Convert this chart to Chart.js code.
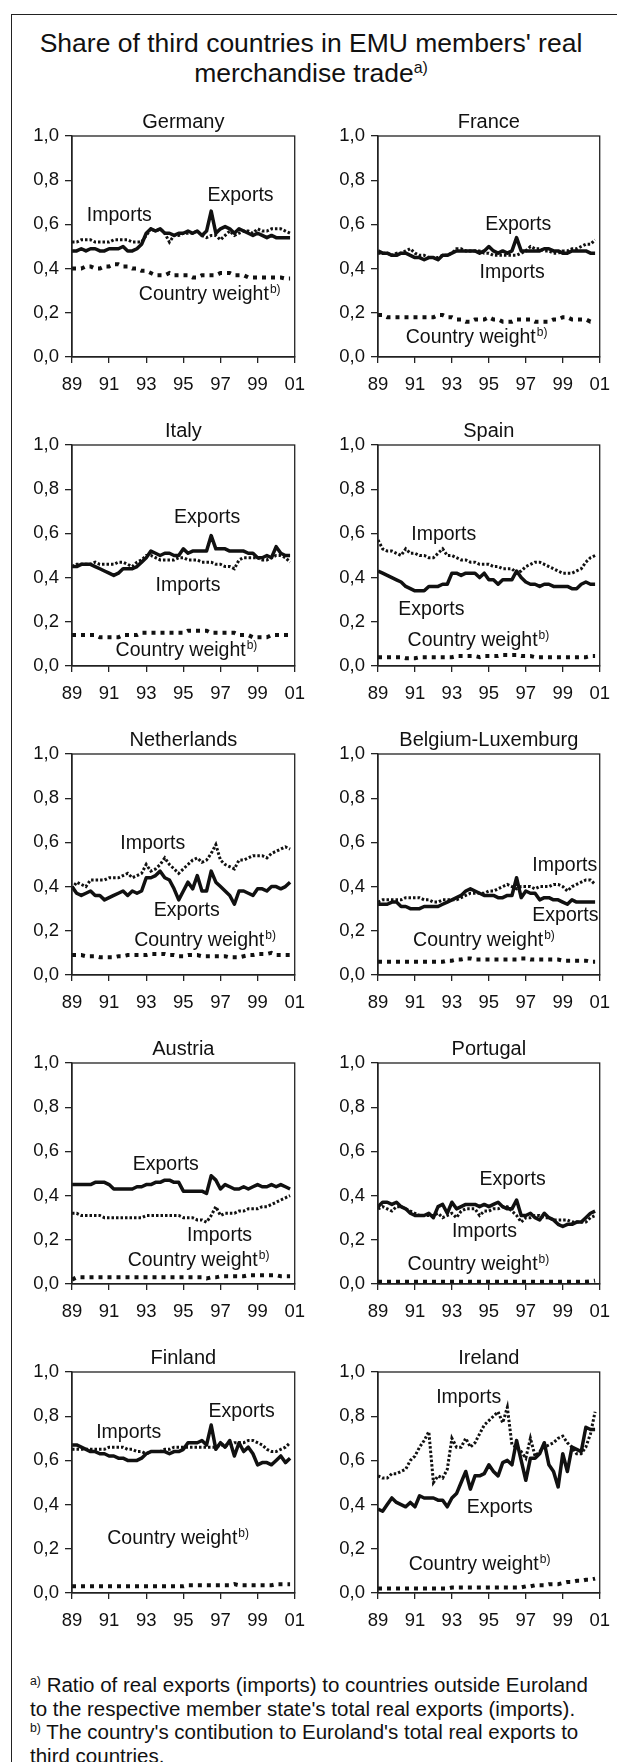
<!DOCTYPE html>
<html>
<head>
<meta charset="utf-8">
<title>Share of third countries in EMU members' real merchandise trade</title>
<script src="https://cdn.jsdelivr.net/npm/chart.js@4.4.1/dist/chart.umd.min.js"></script>
<style>
  html, body { margin: 0; padding: 0; background: #fff; overflow: hidden; }
  body { width: 617px; height: 1762px; position: relative; font-family: "Liberation Sans", Arial, sans-serif; color: #111; }
  #frame { position: absolute; left: 11px; top: 14px; width: 640px; height: 1800px; border: 1.5px solid #222; box-sizing: border-box; }
  #title { position: absolute; left: 3px; width: 616px; top: 28px; text-align: center; font-size: 26.5px; line-height: 30px; }
  .panel { position: absolute; }
  #notes { position: absolute; left: 30px; top: 1673px; font-size: 20.5px; line-height: 23.5px; white-space: nowrap; }
  sup { font-size: 0.6em; vertical-align: 0.55em; line-height: 0; }
</style>
</head>
<body>
<div id="frame"></div>
<div id="title">Share of third countries in EMU members' real<br>merchandise trade<sup>a)</sup></div>
<div id="panels"></div>
<div id="notes">
<sup>a)</sup> Ratio of real exports (imports) to countries outside Euroland<br>
to the respective member state's total real exports (imports).<br>
<sup>b)</sup> The country's contibution to Euroland's total real exports to<br>
third countries.
</div>

<script>
"use strict";

// Quarterly observations 1989Q1 - 2000Q4
const quarters = [];
for (let yr = 89; yr <= 100; yr++) {
  for (let q = 0; q < 4; q++) quarters.push(yr + q / 4);
}

// Axis ticks
const xTickYears = [89, 91, 93, 95, 97, 99, 101];
const yTickValues = [0, 0.2, 0.4, 0.6, 0.8, 1.0];

const countries = ["Germany", "France", "Italy", "Spain", "Netherlands",
  "Belgium-Luxemburg", "Austria", "Portugal", "Finland", "Ireland"];

// Germany
const germanyExports = [.48,.48,.49,.48, .49,.49,.48,.48, .49,.49,.49,.50, .48,.48,.49,.51,
  .56,.58,.57,.58, .56,.56,.55,.56, .56,.57,.56,.57, .55,.57,.66,.56,
  .58,.59,.58,.56, .58,.57,.56,.55, .56,.55,.54,.55, .54,.54,.54,.54];
const germanyImports = [.52,.52,.53,.53, .53,.52,.52,.52, .52,.53,.53,.53, .53,.52,.52,.52,
  .55,.58,.57,.58, .56,.52,.55,.55, .56,.56,.56,.57, .55,.54,.55,.55,
  .53,.55,.57,.55, .56,.57,.57,.56, .58,.57,.57,.58, .58,.58,.57,.56];
const germanyWeight = [.40,.40,.40,.41, .41,.40,.40,.41, .41,.42,.42,.41, .41,.40,.40,.39,
  .39,.38,.37,.37, .37,.38,.37,.37, .37,.37,.36,.36, .37,.37,.37,.37,
  .38,.38,.38,.37, .37,.37,.36,.36, .36,.36,.36,.36, .36,.36,.355,.355];

// France
const franceExports = [.48,.47,.47,.46, .46,.47,.47,.46, .45,.45,.44,.45, .45,.44,.46,.46,
  .47,.48,.48,.48, .48,.48,.47,.48, .50,.48,.47,.48, .47,.48,.54,.48,
  .48,.48,.48,.48, .49,.49,.48,.48, .47,.47,.48,.48, .48,.48,.47,.47];
const franceImports = [.47,.47,.47,.46, .47,.47,.48,.49, .47,.46,.46,.45, .45,.45,.46,.46,
  .47,.49,.49,.48, .48,.48,.48,.47, .47,.46,.46,.46, .46,.46,.46,.47,
  .48,.50,.49,.49, .48,.48,.47,.47, .48,.48,.49,.49, .50,.51,.51,.53];
const franceWeight = [.19,.19,.18,.18, .18,.18,.18,.18, .18,.18,.18,.18, .18,.19,.19,.18,
  .18,.17,.17,.16, .16,.17,.17,.17, .18,.17,.17,.16, .16,.16,.17,.17,
  .17,.17,.16,.16, .16,.16,.17,.17, .18,.18,.17,.17, .17,.17,.16,.16];

// Italy
const italyExports = [.45,.45,.46,.46, .46,.45,.44,.43, .42,.41,.42,.44, .44,.44,.45,.47,
  .49,.52,.51,.50, .51,.51,.50,.50, .53,.51,.52,.52, .52,.52,.59,.53,
  .53,.53,.52,.52, .52,.52,.51,.51, .49,.49,.50,.49, .54,.51,.50,.50];
const italyImports = [.45,.46,.46,.46, .46,.47,.46,.46, .46,.46,.47,.47, .46,.45,.47,.48,
  .50,.50,.49,.48, .48,.48,.48,.49, .49,.48,.48,.48, .47,.47,.47,.46,
  .46,.45,.45,.44, .48,.49,.49,.49, .49,.48,.48,.49, .50,.50,.49,.47];
const italyWeight = [.14,.14,.14,.14, .14,.14,.13,.13, .13,.13,.13,.14, .14,.14,.14,.15,
  .15,.15,.15,.15, .15,.15,.15,.15, .15,.16,.16,.16, .16,.16,.15,.15,
  .15,.15,.15,.15, .14,.14,.14,.13, .13,.13,.13,.14, .14,.14,.14,.14];

// Spain
const spainExports = [.43,.42,.41,.40, .39,.38,.36,.35, .34,.34,.34,.36, .36,.36,.37,.37,
  .42,.42,.41,.42, .42,.42,.40,.42, .39,.39,.37,.39, .39,.39,.43,.40,
  .38,.37,.37,.36, .37,.37,.36,.36, .36,.36,.35,.35, .37,.38,.37,.37];
const spainImports = [.57,.53,.52,.52, .51,.50,.53,.51, .51,.50,.50,.49, .49,.51,.53,.50,
  .50,.49,.48,.48, .47,.47,.46,.46, .46,.45,.45,.44, .44,.44,.42,.43,
  .45,.46,.47,.47, .46,.45,.44,.43, .42,.42,.42,.43, .44,.47,.49,.50];
const spainWeight = [.04,.04,.04,.04, .04,.04,.035,.035, .035,.04,.04,.04, .04,.04,.04,.04,
  .04,.045,.045,.045, .045,.045,.04,.045, .045,.045,.045,.05, .05,.05,.05,.045,
  .045,.045,.04,.04, .04,.04,.04,.04, .04,.04,.04,.04, .04,.04,.045,.045];

// Netherlands
const netherlandsExports = [.40,.37,.36,.37, .38,.36,.36,.34, .35,.36,.37,.38, .36,.38,.37,.38,
  .44,.44,.45,.47, .44,.43,.39,.34, .38,.42,.39,.45, .38,.38,.47,.42,
  .40,.38,.36,.32, .38,.38,.37,.36, .39,.39,.38,.40, .40,.39,.40,.42];
const netherlandsImports = [.39,.42,.41,.40, .43,.43,.43,.43, .44,.44,.44,.45, .46,.44,.45,.46,
  .50,.47,.48,.50, .53,.50,.48,.46, .48,.50,.52,.53, .51,.52,.55,.59,
  .52,.50,.49,.48, .52,.52,.53,.54, .54,.54,.53,.55, .56,.57,.58,.57];
const netherlandsWeight = [.09,.09,.09,.085, .085,.085,.08,.08, .08,.08,.085,.085, .09,.09,.09,.09,
  .09,.095,.095,.095, .095,.09,.09,.085, .085,.09,.09,.09, .085,.085,.085,.085,
  .085,.085,.08,.08, .08,.085,.09,.09, .095,.095,.095,.10, .09,.09,.09,.09];

// Belgium-Luxemburg
const belgiumExports = [.32,.32,.32,.33, .33,.31,.31,.30, .30,.30,.31,.31, .31,.31,.32,.33,
  .34,.35,.36,.38, .39,.38,.37,.36, .36,.36,.35,.35, .36,.36,.44,.35,
  .38,.37,.37,.34, .35,.35,.34,.34, .33,.32,.34,.33, .33,.33,.33,.33];
const belgiumImports = [.33,.34,.34,.34, .34,.34,.35,.35, .35,.35,.34,.34, .33,.33,.34,.34,
  .34,.34,.35,.36, .37,.37,.37,.37, .38,.38,.39,.40, .41,.40,.39,.40,
  .40,.40,.39,.40, .40,.40,.41,.41, .40,.38,.40,.41, .42,.43,.43,.41];
const belgiumWeight = [.06,.06,.06,.06, .06,.06,.06,.06, .06,.06,.06,.06, .06,.06,.06,.065,
  .065,.07,.07,.075, .075,.07,.07,.07, .07,.07,.07,.07, .07,.07,.07,.075,
  .075,.07,.07,.07, .07,.07,.07,.07, .065,.065,.065,.065, .065,.065,.06,.06];

// Austria
const austriaExports = [.45,.45,.45,.45, .45,.46,.46,.46, .45,.43,.43,.43, .43,.43,.44,.44,
  .45,.45,.46,.46, .47,.47,.46,.46, .42,.42,.42,.42, .42,.41,.49,.47,
  .43,.45,.44,.43, .43,.44,.43,.44, .45,.44,.44,.45, .44,.45,.44,.43];
const austriaImports = [.32,.32,.31,.31, .31,.31,.31,.30, .30,.30,.30,.30, .30,.30,.30,.30,
  .31,.31,.31,.31, .31,.31,.31,.31, .30,.30,.30,.29, .29,.28,.31,.35,
  .31,.32,.32,.32, .33,.33,.34,.34, .34,.35,.35,.36, .37,.38,.39,.40];
const austriaWeight = [.02,.03,.03,.03, .03,.03,.03,.03, .03,.03,.03,.03, .03,.03,.03,.03,
  .03,.03,.03,.03, .03,.03,.03,.03, .03,.03,.03,.03, .03,.025,.03,.03,
  .035,.035,.035,.035, .035,.035,.04,.04, .04,.04,.04,.04, .04,.035,.035,.035];

// Portugal
const portugalExports = [.35,.37,.37,.36, .37,.35,.34,.32, .31,.31,.31,.32, .30,.35,.36,.32,
  .37,.34,.35,.36, .36,.36,.35,.36, .35,.36,.37,.35, .34,.34,.38,.31,
  .31,.32,.30,.29, .32,.30,.29,.27, .26,.27,.27,.28, .28,.30,.32,.33];
const portugalImports = [.34,.35,.34,.33, .35,.35,.34,.33, .32,.31,.31,.31, .31,.32,.30,.31,
  .32,.30,.33,.34, .34,.34,.31,.33, .33,.34,.34,.35, .35,.33,.31,.28,
  .30,.30,.31,.31, .30,.30,.29,.29, .29,.29,.28,.28, .28,.28,.30,.31];
const portugalWeight = [.01,.01,.01,.01, .01,.01,.01,.01, .01,.01,.01,.01, .01,.01,.01,.01,
  .01,.01,.01,.01, .01,.01,.01,.01, .01,.01,.01,.01, .01,.01,.01,.01,
  .01,.01,.01,.01, .01,.01,.01,.01, .01,.01,.01,.01, .01,.01,.012,.015];

// Finland
const finlandExports = [.67,.67,.66,.65, .64,.64,.63,.63, .62,.62,.61,.61, .60,.60,.60,.61,
  .63,.64,.64,.64, .64,.63,.64,.64, .65,.68,.68,.68, .69,.67,.76,.65,
  .68,.66,.69,.62, .68,.64,.66,.63, .58,.59,.59,.58, .60,.62,.59,.61];
const finlandImports = [.65,.65,.65,.65, .65,.65,.65,.65, .66,.66,.66,.66, .65,.65,.64,.64,
  .63,.64,.64,.64, .65,.65,.66,.66, .66,.66,.66,.66, .66,.66,.66,.66,
  .67,.67,.67,.68, .68,.68,.69,.69, .68,.67,.65,.64, .64,.65,.66,.68];
const finlandWeight = [.03,.03,.03,.03, .03,.03,.03,.03, .03,.03,.03,.03, .03,.03,.03,.03,
  .03,.03,.03,.03, .03,.03,.03,.03, .03,.035,.035,.035, .035,.035,.035,.035,
  .035,.035,.035,.04, .035,.035,.035,.035, .035,.035,.035,.035, .04,.04,.04,.04];

// Ireland
const irelandExports = [.38,.37,.40,.43, .41,.40,.39,.41, .39,.44,.43,.43, .43,.42,.42,.39,
  .43,.45,.50,.55, .47,.53,.53,.54, .58,.55,.53,.59, .60,.58,.69,.60,
  .51,.61,.61,.63, .68,.58,.55,.48, .63,.55,.66,.65, .64,.75,.74,.74];
const irelandImports = [.53,.52,.52,.54, .54,.55,.56,.60, .62,.66,.69,.73, .50,.53,.52,.56,
  .70,.66,.66,.70, .66,.68,.72,.76, .78,.80,.82,.77, .84,.67,.66,.64,
  .61,.70,.62,.64, .66,.67,.68,.70, .71,.68,.66,.63, .63,.66,.72,.82];
const irelandWeight = [.02,.02,.02,.02, .02,.02,.02,.02, .02,.02,.02,.02, .02,.02,.02,.02,
  .025,.025,.025,.025, .025,.025,.025,.025, .025,.025,.025,.025, .025,.025,.025,.025,
  .03,.03,.035,.035, .035,.04,.04,.04, .045,.05,.05,.055, .055,.06,.06,.065];

const exportsSeries = [germanyExports, franceExports, italyExports, spainExports, netherlandsExports,
  belgiumExports, austriaExports, portugalExports, finlandExports, irelandExports];
const importsSeries = [germanyImports, franceImports, italyImports, spainImports, netherlandsImports,
  belgiumImports, austriaImports, portugalImports, finlandImports, irelandImports];
const weightSeries = [germanyWeight, franceWeight, italyWeight, spainWeight, netherlandsWeight,
  belgiumWeight, austriaWeight, portugalWeight, finlandWeight, irelandWeight];

// In-plot labels: [exports x, y], [imports x, y], [weight x, y] (left edge, data units)
const labelSpots = [
  [[96.3, .73], [89.8, .64], [92.6, .28]],
  [[94.8, .60], [94.5, .38], [90.5, .087]],
  [[94.5, .67], [93.5, .364], [91.35, .068]],
  [[90.1, .256], [90.8, .594], [90.6, .113]],
  [[93.4, .29], [91.6, .595], [92.35, .155]],
  [[97.35, .27], [97.35, .493], [90.9, .155]],
  [[92.27, .542], [95.2, .22], [92.0, .107]],
  [[94.5, .474], [93.0, .237], [90.6, .087]],
  [[96.36, .82], [90.3, .725], [90.9, .247]],
  [[93.8, .387], [92.15, .886], [90.66, .129]]
];

// Panel layout
const colLeft = [10, 316];
const colWidth = [306, 305];
const rowTop0 = 110;
const rowStep = 309;
const panelHeight = 287;

const FONT = "'Liberation Sans', Arial, sans-serif";
Chart.defaults.font.family = FONT;
Chart.defaults.color = "#111";

// Box around the plot area plus the text labels inside it
const plotDecor = {
  id: "plotDecor",
  afterDatasetsDraw(chart, args, opts) {
    const { ctx, chartArea: a, scales } = chart;
    ctx.save();
    ctx.strokeStyle = "#222";
    ctx.lineWidth = 1.3;
    ctx.strokeRect(a.left, a.top, a.right - a.left, a.bottom - a.top);

    ctx.fillStyle = "#111";
    ctx.textBaseline = "middle";
    ctx.textAlign = "left";
    opts.labels.forEach((lab) => {
      const px = scales.x.getPixelForValue(lab.x);
      const py = scales.y.getPixelForValue(lab.y);
      ctx.font = "19.5px " + FONT;
      ctx.fillText(lab.text, px, py);
      if (lab.sup) {
        const w = ctx.measureText(lab.text).width;
        ctx.font = "12px " + FONT;
        ctx.fillText(lab.sup, px + w + 1, py - 5);
      }
    });
    ctx.restore();
  }
};

function makePanel(idx) {
  const col = idx % 2;
  const row = Math.floor(idx / 2);

  const wrap = document.createElement("div");
  wrap.className = "panel";
  wrap.style.left = colLeft[col] + "px";
  wrap.style.top = (rowTop0 + row * rowStep) + "px";
  const canvas = document.createElement("canvas");
  canvas.width = colWidth[col];
  canvas.height = panelHeight;
  wrap.appendChild(canvas);
  document.getElementById("panels").appendChild(wrap);

  const spots = labelSpots[idx];
  const labels = [
    { text: "Exports", x: spots[0][0], y: spots[0][1] },
    { text: "Imports", x: spots[1][0], y: spots[1][1] },
    { text: "Country weight", sup: "b)", x: spots[2][0], y: spots[2][1] }
  ];

  new Chart(canvas, {
    type: "line",
    data: {
      labels: quarters,
      datasets: [
        {
          label: "Exports",
          data: exportsSeries[idx],
          borderColor: "#111",
          borderWidth: 3.5,
          borderJoinStyle: "round",
          pointRadius: 0,
          tension: 0
        },
        {
          label: "Imports",
          data: importsSeries[idx],
          borderColor: "#111",
          borderWidth: 3,
          borderDash: [2.5, 2],
          pointRadius: 0,
          tension: 0
        },
        {
          label: "Country weight",
          data: weightSeries[idx],
          borderColor: "#111",
          borderWidth: 4,
          borderDash: [4, 5],
          pointRadius: 0,
          tension: 0
        }
      ]
    },
    options: {
      responsive: false,
      animation: false,
      layout: { padding: { left: 0, right: 14, top: 0, bottom: 0 } },
      plugins: {
        legend: { display: false },
        tooltip: { enabled: false },
        title: {
          display: true,
          text: countries[idx],
          fullSize: false,
          color: "#111",
          font: { size: 20, weight: "normal" },
          padding: { top: 0, bottom: 2 }
        },
        plotDecor: { labels }
      },
      scales: {
        x: {
          type: "linear",
          min: 89,
          max: 101,
          afterBuildTicks: (s) => { s.ticks = xTickYears.map((v) => ({ value: v })); },
          afterFit: (s) => { s.height = 40; },
          ticks: {
            color: "#111",
            font: { size: 18.5 },
            padding: 11,
            maxRotation: 0,
            autoSkip: false,
            callback: (v) => String(v % 100).padStart(2, "0")
          },
          grid: { drawOnChartArea: false, tickLength: 6, color: "#222", lineWidth: 1.3 },
          border: { display: true, color: "#222", width: 1.3 }
        },
        y: {
          min: 0,
          max: 1,
          afterBuildTicks: (s) => { s.ticks = yTickValues.map((v) => ({ value: v })); },
          afterFit: (s) => { s.width = 62; },
          ticks: {
            color: "#111",
            font: { size: 18.5 },
            padding: 6,
            autoSkip: false,
            callback: (v) => v.toFixed(1).replace(".", ",")
          },
          grid: { drawOnChartArea: false, tickLength: 7, color: "#222", lineWidth: 1.3 },
          border: { display: true, color: "#222", width: 1.3 }
        }
      }
    },
    plugins: [plotDecor]
  });
}

countries.forEach((_, i) => makePanel(i));
</script>
</body>
</html>
